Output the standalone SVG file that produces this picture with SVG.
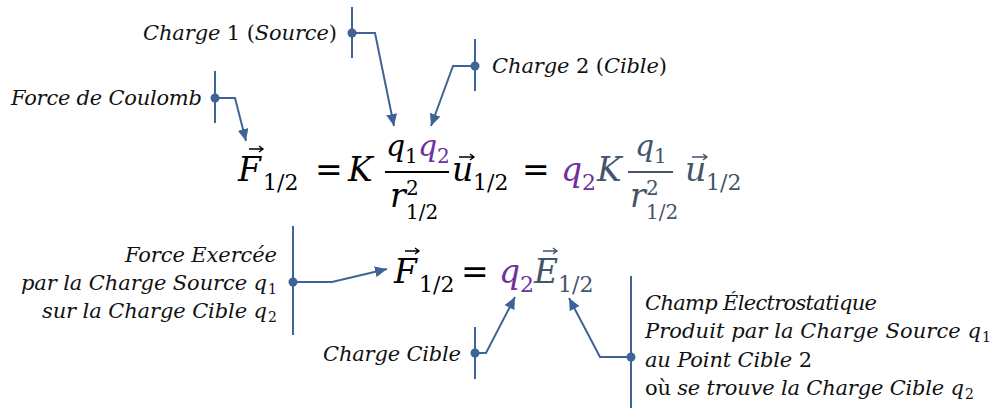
<svg xmlns="http://www.w3.org/2000/svg" width="998" height="410" viewBox="0 0 998 410">
<defs>
<marker id="ah" markerUnits="userSpaceOnUse" markerWidth="13" markerHeight="11" refX="12" refY="5.5" orient="auto">
<path d="M0,0 L12,5.5 L0,11 z" fill="#3E6497"/>
</marker>
<style>
.t{font-family:"DejaVu Serif","Liberation Serif",serif;font-style:italic;font-size:21px;fill:#111}
.n{font-style:normal}
.sb{font-family:"DejaVu Serif","Liberation Serif",serif;font-style:normal;font-size:14px;fill:#111}
.m{font-family:"DejaVu Serif","Liberation Serif",serif;font-style:italic;font-size:33px;fill:#000}
.q{font-size:30px}
.mn{font-family:"DejaVu Serif","Liberation Serif",serif;font-style:normal;font-size:33px;fill:#000}
.s{font-family:"DejaVu Serif","Liberation Serif",serif;font-style:normal;font-size:22px;fill:#000}
.ss{font-size:20px}
.pu{fill:#7030A0}
.gr{fill:#44546A}
.bar{stroke:#3E6497;stroke-width:2;fill:none}
.dot{fill:#3E6497}
.con{stroke:#3E6497;stroke-width:2;fill:none;marker-end:url(#ah)}
.vec{stroke:#000;stroke-width:1.4;fill:none}
.vg{stroke:#44546A}
.fb{stroke:#000;stroke-width:2}
.fg{stroke:#44546A;stroke-width:2}
</style>
</defs>
<rect width="998" height="410" fill="#fff"/>

<g id="eq1">
<text class="m" x="238" y="181">F</text>
<path class="vec" d="M249,149 H263 M259,146 L263,149 L259,152"/>
<text class="s" x="263" y="190">1/2</text>
<text class="mn" x="315" y="181">=</text>
<text class="m" x="348" y="181">K</text>
<line class="fb" x1="385" y1="172" x2="449" y2="172"/>
<text class="m q" x="386" y="156">q</text>
<text class="s ss" x="405" y="163">1</text>
<text class="m q pu" x="418" y="156">q</text>
<text class="s ss pu" x="437" y="163">2</text>
<text class="m" x="390" y="207">r</text>
<text class="s ss" x="406" y="195">2</text>
<text class="s ss" x="406" y="219">1/2</text>
<text class="m" x="452" y="181">u</text>
<path class="vec" d="M459,157 H474 M470,154 L474,157 L470,160"/>
<text class="s" x="473" y="190">1/2</text>
<text class="mn" x="522" y="181">=</text>
<text class="m pu" x="561" y="181">q</text>
<text class="s pu" x="582" y="190">2</text>
<text class="m gr" x="597" y="181">K</text>
<line class="fg" x1="628" y1="172" x2="673" y2="172"/>
<text class="m q gr" x="635" y="156">q</text>
<text class="s ss gr" x="654" y="163">1</text>
<text class="m gr" x="630" y="207">r</text>
<text class="s ss gr" x="646" y="195">2</text>
<text class="s ss gr" x="646" y="219">1/2</text>
<text class="m gr" x="685" y="181">u</text>
<path class="vec vg" d="M692,157 H707 M703,154 L707,157 L703,160"/>
<text class="s gr" x="706" y="190">1/2</text>
</g>

<g id="eq2">
<text class="m" x="394" y="283">F</text>
<path class="vec" d="M405,251 H419 M415,248 L419,251 L415,254"/>
<text class="s" x="419" y="292">1/2</text>
<text class="mn" x="461" y="283">=</text>
<text class="m pu" x="499" y="283">q</text>
<text class="s pu" x="520" y="292">2</text>
<text class="m gr" x="534" y="283">E</text>
<path class="vec vg" d="M543,251 H557 M553,248 L557,251 L553,254"/>
<text class="s gr" x="558" y="292">1/2</text>
</g>

<g id="lbl-charge1">
<text class="t" x="143" y="40" textLength="194" lengthAdjust="spacing">Charge <tspan class="n">1 (</tspan>Source<tspan class="n">)</tspan></text>
<line class="bar" x1="352" y1="7" x2="352" y2="58"/>
<circle class="dot" cx="352" cy="33" r="4.5"/>
</g>

<g id="lbl-charge2">
<text class="t" x="492" y="73" textLength="175" lengthAdjust="spacing">Charge <tspan class="n">2 (</tspan>Cible<tspan class="n">)</tspan></text>
<line class="bar" x1="475" y1="39" x2="475" y2="91"/>
<circle class="dot" cx="475" cy="66" r="4.5"/>
</g>

<g id="lbl-coulomb">
<text class="t" x="11" y="105" textLength="191" lengthAdjust="spacing">Force de Coulomb</text>
<line class="bar" x1="215" y1="71" x2="215" y2="123"/>
<circle class="dot" cx="215" cy="98" r="4.5"/>
</g>

<g id="lbl-force">
<text class="t" x="125" y="262" textLength="152" lengthAdjust="spacing">Force Exercée</text>
<text class="t" x="21" y="290" textLength="246" lengthAdjust="spacing">par la Charge Source q</text>
<text class="sb" x="268" y="294">1</text>
<text class="t" x="42" y="318" textLength="225" lengthAdjust="spacing">sur la Charge Cible q</text>
<text class="sb" x="268" y="322">2</text>
<line class="bar" x1="293" y1="226" x2="293" y2="335"/>
<circle class="dot" cx="293" cy="282" r="4.5"/>
</g>

<g id="lbl-cible">
<text class="t" x="323" y="361" textLength="138" lengthAdjust="spacing">Charge Cible</text>
<line class="bar" x1="475" y1="327" x2="475" y2="379"/>
<circle class="dot" cx="475" cy="353" r="4.5"/>
</g>

<g id="lbl-champ">
<text class="t" x="645" y="310" textLength="232" lengthAdjust="spacing">Champ Électrostatique</text>
<text class="t" x="645" y="338" textLength="336" lengthAdjust="spacing">Produit par la Charge Source q</text>
<text class="sb" x="982" y="342">1</text>
<text class="t" x="645" y="366.5" textLength="167" lengthAdjust="spacing">au Point Cible <tspan class="n">2</tspan></text>
<text class="t" x="645" y="395" textLength="319" lengthAdjust="spacing"><tspan class="n">où</tspan> se trouve la Charge Cible q</text>
<text class="sb" x="965" y="399">2</text>
<line class="bar" x1="631" y1="276" x2="631" y2="408"/>
<circle class="dot" cx="631" cy="357" r="4.5"/>
</g>

<g id="connectors">
<path class="con" d="M352,33 H375 L394,126"/>
<path class="con" d="M475,66 H453 L431,126"/>
<path class="con" d="M215,98 H235 L246,141"/>
<path class="con" d="M293,282 H332 L387,269"/>
<path class="con" d="M475,353 H486 L515,297"/>
<path class="con" d="M631,357 H600 L569,298"/>
</g>
</svg>
